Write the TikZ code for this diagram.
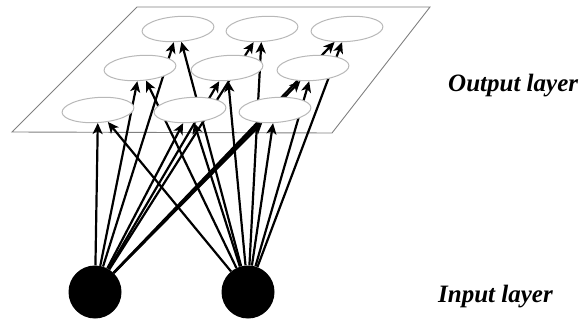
\documentclass[tikz,border=0pt]{standalone}
\usepackage{fontspec}
\setmainfont{Liberation Serif}
\usetikzlibrary{shapes.geometric,arrows.meta}
\pgfdeclarelayer{background}
\pgfsetlayers{background,main}
\begin{document}
\begin{tikzpicture}[x=1pt,y=-1pt,
  outnode/.style={ellipse,draw=black!28,line width=1pt,fill=white,minimum width=72pt,minimum height=25pt,inner sep=0pt,rotate=4},
  innode/.style={circle,fill=black,minimum size=53pt,inner sep=0pt},
  conn/.style={line width=2.2pt,-{Stealth[length=11pt,width=10pt,inset=3pt]}},
  plane/.style={draw=black!50,line width=0.9pt},
  lbl/.style={font=\fontsize{25}{30}\selectfont\bfseries\itshape,anchor=base west,inner sep=0pt}]
\useasboundingbox (0,0) rectangle (588,320);
% output layer nodes
\node[outnode] (o1) at (178,29) {};
\node[outnode] (o2) at (262,29) {};
\node[outnode] (o3) at (347,29) {};
\node[outnode] (o4) at (140,68) {};
\node[outnode] (o5) at (227,68) {};
\node[outnode] (o6) at (313,68) {};
\node[outnode] (o7) at (98,110) {};
\node[outnode] (o8) at (190,110) {};
\node[outnode] (o9) at (275,110) {};
% input nodes
\node[innode] (i1) at (95,292) {};
\node[innode] (i2) at (248,292) {};
% labels
\node[lbl] (lout) at (448,92) {Output layer};
\node[lbl] (lin) at (438,302) {Input layer};
\begin{pgfonlayer}{background}
\coordinate (p1) at (137,7);
\coordinate (p2) at (430,7);
\coordinate (p3) at (332,133);
\coordinate (p4) at (12,132);
\draw[plane] (p1) -- (p2) -- (p3) -- (p4) -- cycle;
\foreach \o in {o1,o2,o3,o4,o5,o6,o7,o8,o9}{
  \draw[conn] (i1) -- (\o);
  \draw[conn] (i2) -- (\o);
}
\end{pgfonlayer}
\end{tikzpicture}
\end{document}
